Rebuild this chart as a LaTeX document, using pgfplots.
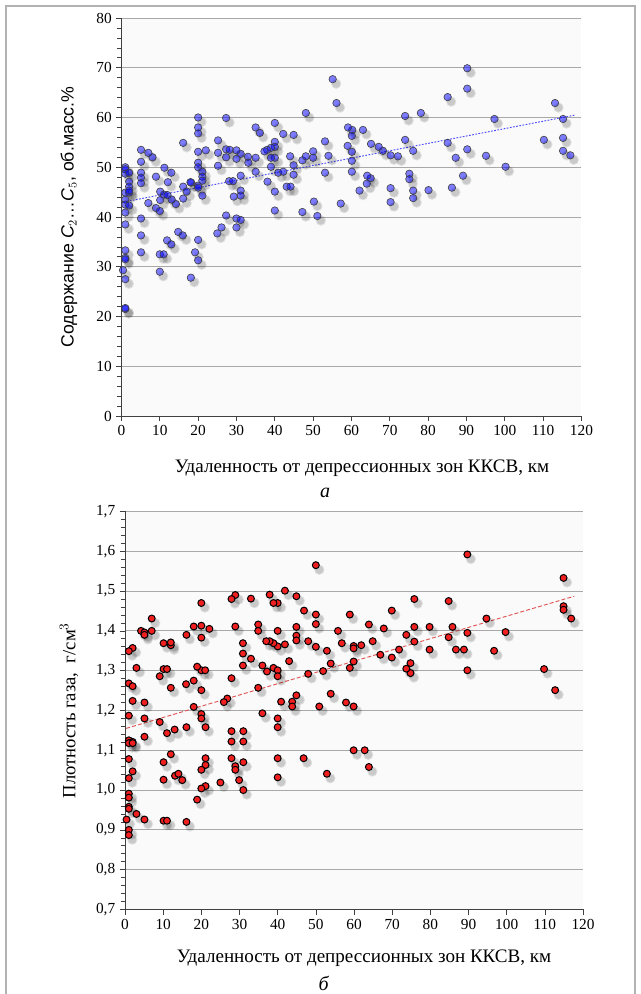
\documentclass[border=0pt]{standalone}
\usepackage{fontspec}
\setmainfont{Liberation Serif}
\newfontfamily\arialfont{Liberation Sans}
\usepackage{pgfplots}
\usepackage{pgfplotstable}
\pgfplotsset{compat=1.18}

\pgfplotstableread{
x y
90.2 69.9
90.2 65.8
55.1 67.7
56.1 62.9
85.1 64.1
113.1 62.9
115.2 59.7
115.2 55.9
115.2 53.3
117.1 52.4
110.2 55.5
97.3 59.7
95.1 52.3
100.2 50.1
90.2 53.6
87.2 51.9
89.1 48.3
86.2 45.9
85.1 54.9
74.0 60.3
78.1 60.9
74.0 55.5
76.1 53.3
75.1 48.7
75.1 47.6
76.1 45.3
76.1 43.8
80.1 45.4
70.2 43.0
70.2 45.8
70.2 52.4
72.1 52.2
68.2 53.3
67.1 54.1
65.1 54.7
63.0 57.5
60.2 57.5
59.1 58.0
60.1 56.3
59.0 54.3
60.1 53.1
60.1 51.3
60.1 49.1
65.0 47.8
64.1 48.3
64.0 46.7
62.1 45.3
57.2 42.7
53.1 55.2
54.0 52.3
53.1 48.9
48.1 60.9
50.0 53.2
50.0 51.9
47.2 51.4
48.1 52.2
50.2 43.1
44.9 56.5
42.2 56.7
40.0 58.9
40.0 55.1
40.0 54.1
39.0 53.9
38.0 53.5
37.3 53.2
40.0 51.9
39.0 51.9
39.0 50.1
38.1 47.1
35.0 58.0
36.1 56.9
35.0 51.9
35.0 49.1
33.0 52.1
33.1 50.9
40.0 45.1
40.9 48.9
42.2 49.1
44.0 52.2
44.9 50.4
44.9 48.5
43.1 46.1
44.1 46.1
40.0 41.3
47.2 41.0
51.1 40.2
31.1 52.7
30.0 53.4
30.0 51.7
31.1 48.3
31.1 45.3
31.1 44.3
29.3 44.1
30.0 39.7
31.1 39.4
30.0 37.9
27.3 59.9
25.2 55.4
25.2 52.9
25.2 50.3
27.3 53.6
27.3 52.0
28.2 53.5
28.1 47.2
29.1 47.2
27.3 40.3
26.1 37.9
25.0 36.7
22.0 53.4
20.0 60.0
20.0 58.0
20.0 56.8
20.0 53.1
20.0 50.9
20.0 50.0
21.1 49.1
21.1 48.1
21.1 47.3
20.0 46.3
20.0 45.9
21.1 44.3
20.0 35.4
18.2 46.9
18.0 47.0
16.1 54.9
16.1 46.1
17.0 45.1
16.1 43.7
14.2 42.6
13.1 43.5
11.2 49.9
12.1 47.0
13.0 48.9
10.1 45.1
11.1 44.5
12.0 44.4
10.1 43.4
9.0 48.1
8.1 52.0
7.0 52.9
7.0 42.8
5.1 53.5
5.1 51.1
5.1 48.9
5.1 47.9
5.1 46.8
9.0 41.8
10.0 41.2
5.1 39.7
14.8 37.0
16.0 36.3
5.1 36.3
11.9 35.3
13.0 34.5
1.0 50.0
1.0 49.6
1.0 48.7
2.0 48.9
2.0 47.1
2.0 46.1
2.0 44.9
1.0 44.9
2.0 45.3
1.0 43.5
1.0 42.5
2.0 42.3
1.0 40.9
1.0 38.5
5.1 32.9
1.0 33.3
1.0 31.8
1.0 31.5
0.4 29.3
1.0 27.5
1.0 21.5
1.0 21.7
10.0 32.5
11.0 32.5
10.0 29.0
19.2 32.9
20.0 31.3
18.1 27.8
}\dataA

\pgfplotstableread{
x y
89.7 1.592
50.0 1.565
114.9 1.533
114.9 1.462
114.9 1.453
116.9 1.431
109.8 1.304
112.7 1.251
99.7 1.397
96.7 1.350
94.7 1.431
89.7 1.395
89.7 1.301
88.8 1.353
86.7 1.353
85.8 1.410
84.8 1.475
84.8 1.384
79.8 1.410
79.8 1.353
75.8 1.480
75.8 1.410
75.8 1.373
74.8 1.319
74.8 1.294
73.7 1.305
73.7 1.390
71.8 1.353
69.9 1.451
69.9 1.333
67.8 1.406
66.9 1.340
64.9 1.374
63.9 1.416
61.9 1.364
59.9 1.362
59.9 1.356
59.9 1.323
58.9 1.441
58.9 1.307
57.9 1.220
59.9 1.210
56.8 1.369
55.8 1.400
53.9 1.318
53.9 1.242
52.9 1.350
51.9 1.299
50.9 1.210
50.0 1.441
50.0 1.417
50.0 1.360
48.0 1.374
48.0 1.292
46.9 1.451
44.9 1.487
44.9 1.410
44.9 1.388
44.9 1.376
44.9 1.238
43.8 1.222
43.8 1.210
43.0 1.324
41.9 1.501
41.9 1.366
40.9 1.222
40.0 1.470
38.9 1.470
37.9 1.491
40.0 1.400
40.0 1.361
38.9 1.369
37.9 1.374
37.0 1.374
38.9 1.307
40.0 1.301
40.0 1.286
40.0 1.180
40.0 1.158
36.0 1.193
36.0 1.313
37.2 1.298
34.9 1.416
34.9 1.400
34.9 1.257
33.0 1.481
33.0 1.330
30.9 1.369
30.9 1.343
30.9 1.313
28.9 1.411
28.9 1.490
27.9 1.480
27.9 1.281
26.8 1.230
25.9 1.221
27.9 1.148
27.9 1.122
31.0 1.148
31.0 1.122
20.0 1.470
20.0 1.413
20.0 1.383
18.0 1.411
22.1 1.405
20.0 1.301
21.0 1.301
18.9 1.310
20.0 1.251
18.0 1.275
16.0 1.266
18.0 1.209
20.0 1.191
20.0 1.180
21.1 1.158
16.1 1.158
16.1 1.390
13.0 1.152
11.0 1.143
9.1 1.171
12.0 1.257
12.0 1.364
12.0 1.371
10.1 1.369
9.1 1.286
10.1 1.304
11.0 1.304
7.0 1.431
7.0 1.400
4.2 1.400
5.1 1.396
5.1 1.390
3.0 1.307
2.0 1.357
1.0 1.349
1.0 1.268
2.0 1.261
2.0 1.224
5.1 1.220
5.1 1.180
1.0 1.187
5.1 1.134
1.0 1.125
2.0 1.121
1.0 1.118
2.0 1.118
1.0 1.078
12.0 1.090
10.1 1.070
10.1 1.026
13.1 1.036
14.0 1.041
15.0 1.025
21.1 1.080
21.1 1.063
20.0 1.051
21.1 1.010
20.0 1.004
18.9 0.976
25.0 1.019
27.9 1.080
28.9 1.060
28.9 1.051
31.0 1.070
29.9 1.025
31.0 1.000
40.0 1.080
40.0 1.032
46.8 1.080
52.9 1.041
59.9 1.100
62.8 1.100
63.9 1.058
2.0 1.047
1.0 1.030
1.0 0.991
1.0 0.981
1.0 0.958
1.0 0.953
3.0 0.940
0.4 0.926
5.1 0.926
10.1 0.923
11.0 0.923
16.1 0.920
1.0 0.900
1.0 0.887
}\dataB

\definecolor{axisgray}{HTML}{404040}
\definecolor{gridgray}{HTML}{A8A8A8}
\definecolor{redfill}{HTML}{F02020}
\definecolor{trendblue}{HTML}{4A4AFF}
\definecolor{trendred}{HTML}{E05555}

\pgfplotsset{
  mystyle/.style={
    scale only axis,
    axis lines*=left,
    axis line style={axisgray, line width=0.7pt},
    tick style={axisgray, line width=0.5pt},
    tick align=outside,
    major tick length=3.8pt,
    minor tick length=3.3pt,
    ymajorgrids,
    major grid style={gridgray, line width=0.7pt},
    axis background/.style={fill=black!2},
    xmin=0, xmax=120, xtick={0,10,...,120},
    minor y tick num=4,
    tick label style={font=\fontsize{11.5}{13}\selectfont},
    /pgf/number format/assume math mode=true,
    clip=false,
  },
  shadowmarks/.style={only marks, mark=*, color=black, mark size=#1,
    mark options={draw=none, fill=black, fill opacity=0.10, draw opacity=0, xshift=2.6pt, yshift=-3.4pt}},
}

\begin{document}
\begin{tikzpicture}
\useasboundingbox (0pt,0pt) rectangle (480pt,-745.5pt);
\draw[black!30, line width=1.6pt] (4.6pt,-745.5pt) -- (4.6pt,-4.8pt) -- (476pt,-4.8pt) -- (476pt,-745.5pt);

% ---------- panel a ----------
\begin{axis}[mystyle,
  at={(91.1pt,-312pt)}, anchor=south west,
  width=345pt, height=298.5pt,
  ymin=0, ymax=80, ytick={0,10,...,80},
  xlabel={Удаленность от депрессионных зон ККСВ, км},
  xlabel style={at={(axis description cs:0.523,0)}, anchor=center, yshift=-39.4pt,
    font=\fontsize{14.3}{17}\selectfont},
  ylabel={\arialfont Содержание \textit{C}$_2$…\textit{C}$_5$, об.масс.\%},
  ylabel style={at={(axis description cs:-0.114,0.5)}, anchor=center,
    font=\fontsize{13.3}{15}\selectfont},
]
\addplot[shadowmarks=3.9pt] table[x=x,y=y] {\dataA};
\addplot[shadowmarks=3.1pt] table[x=x,y=y] {\dataA};
\addplot[only marks, mark=*, mark size=2.8pt,
  mark options={fill=blue, fill opacity=0.5, draw=black!75, line width=0.45pt}]
  table[x=x,y=y] {\dataA};
\addplot[trendblue, line width=0.7pt, dash pattern=on 1.3pt off 1.1pt]
  coordinates {(0.5,43.0) (118.4,60.5)};
\end{axis}
\node[font=\itshape\fontsize{15}{15}\selectfont] at (243.8pt,-369.5pt) {а};

% ---------- panel b ----------
\begin{axis}[mystyle,
  at={(93.75pt,-682.1pt)}, anchor=south west,
  width=343.5pt, height=298.5pt,
  ymin=0.7, ymax=1.7, ytick={0.7,0.8,0.9,1.0,1.1,1.2,1.3,1.4,1.5,1.6,1.7},
  yticklabel style={/pgf/number format/.cd, fixed, fixed zerofill, precision=1, use comma},
  xlabel={Удаленность от депрессионных зон ККСВ, км},
  xlabel style={at={(axis description cs:0.522,0)}, anchor=center, yshift=-36.5pt,
    font=\fontsize{14.3}{17}\selectfont},
  ylabel={Плотность газа, \ г/см$^3$},
  ylabel style={at={(axis description cs:-0.1223,0.5)}, anchor=center,
    font=\fontsize{14}{16}\selectfont},
]
\addplot[shadowmarks=3.9pt] table[x=x,y=y] {\dataB};
\addplot[shadowmarks=3.1pt] table[x=x,y=y] {\dataB};
\addplot[only marks, mark=*, mark size=2.6pt,
  mark options={fill=redfill, draw=black, line width=0.75pt}]
  table[x=x,y=y] {\dataB};
\addplot[trendred, line width=0.7pt, dash pattern=on 3pt off 1.6pt]
  coordinates {(0.3,1.155) (117.7,1.487)};
\end{axis}
\node[font=\itshape\fontsize{15}{15}\selectfont] at (242.7pt,-737.3pt) {б};
\end{tikzpicture}
\end{document}
